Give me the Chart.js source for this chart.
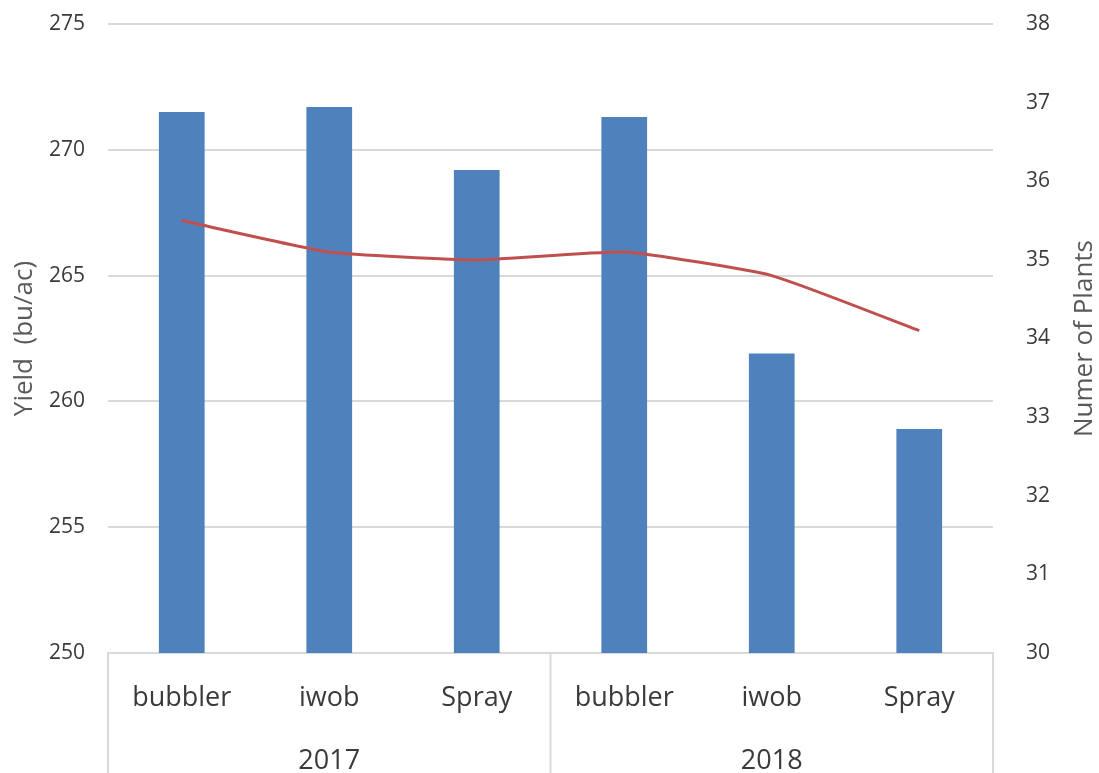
<!DOCTYPE html>
<html>
<head>
<meta charset="utf-8">
<script src="https://cdn.jsdelivr.net/npm/chart.js@4/dist/chart.umd.min.js"></script>
<style>
  html, body { margin: 0; padding: 0; background: #ffffff; }
  #wrap { width: 1099px; height: 773px; }
</style>
</head>
<body>
<div id="wrap"><canvas id="chart" width="1099" height="773"></canvas></div>
<script>
// Treatments within each season, and the season labels underneath
const categories = ['bubbler', 'iwob', 'Spray', 'bubbler', 'iwob', 'Spray'];
const years = ['2017', '2018'];

// Yield (bu/ac), left axis
const yieldValues = [271.5, 271.7, 269.2, 271.3, 261.9, 258.9];
// Number of plants, right axis
const plantCounts = [35.5, 35.1, 35.0, 35.1, 34.8, 34.1];

// Axis ranges and tick steps
const yieldRange = { min: 250, max: 275, step: 5 };
const plantRange = { min: 30, max: 38, step: 1 };

const FONT = '"Open Sans", "Noto Sans", sans-serif';
const TEXT = '#3a3a3a';
const TITLE = '#595959';
const GRID = '#d9d9d9';

// Fixed axis width; keeps the tick-label gap from adding space above the plot
function fixVertical(width) {
  return function (scale) {
    scale.width = width;
    scale.paddingTop = 12;
    scale.paddingBottom = 12;
  };
}

// Frames the two-level category area below the plot and writes the right-hand title
const categoryFrame = {
  id: 'categoryFrame',
  afterDraw(chart) {
    const { ctx, chartArea } = chart;
    const x = chart.scales.x;
    const bottom = chart.height;
    const split = (x.getPixelForValue(2) + x.getPixelForValue(3)) / 2;
    ctx.save();
    ctx.strokeStyle = GRID;
    ctx.lineWidth = 2;
    ctx.beginPath();
    [chartArea.left, split, chartArea.right].forEach(px => {
      ctx.moveTo(px, chartArea.bottom);
      ctx.lineTo(px, bottom);
    });
    ctx.stroke();

    const y1 = chart.scales.y1;
    ctx.translate(y1.right - 14, (chartArea.top + chartArea.bottom) / 2);
    ctx.rotate(-Math.PI / 2);
    ctx.fillStyle = TITLE;
    ctx.font = '26px ' + FONT;
    ctx.textAlign = 'center';
    ctx.textBaseline = 'middle';
    ctx.fillText('Numer of Plants', 0, 0);
    ctx.restore();
  }
};

new Chart(document.getElementById('chart'), {
  data: {
    labels: categories,
    datasets: [
      {
        type: 'line',
        label: 'Numer of Plants',
        data: plantCounts,
        yAxisID: 'y1',
        xAxisID: 'x',
        borderColor: '#c0504d',
        borderWidth: 3,
        pointRadius: 0,
        tension: 0.15,
        fill: false,
        order: 0
      },
      {
        type: 'bar',
        label: 'Yield (bu/ac)',
        data: yieldValues,
        yAxisID: 'y',
        xAxisID: 'x',
        backgroundColor: '#4f81bd',
        borderWidth: 0,
        categoryPercentage: 1,
        barPercentage: 0.31,
        order: 1
      }
    ]
  },
  options: {
    responsive: false,
    animation: false,
    devicePixelRatio: 1,
    layout: { padding: { top: 24, left: 0, right: 0, bottom: 0 } },
    plugins: {
      legend: { display: false },
      tooltip: { enabled: false }
    },
    scales: {
      x: {
        type: 'category',
        position: 'bottom',
        grid: { display: false, drawTicks: false },
        border: { display: true, color: GRID, width: 2 },
        ticks: {
          autoSkip: false,
          maxRotation: 0,
          padding: 29,
          color: TEXT,
          font: { family: FONT, size: 27 }
        },
        afterFit(scale) { scale.height = 70; }
      },
      x2: {
        type: 'category',
        position: 'bottom',
        labels: years,
        offset: true,
        grid: { display: false, drawTicks: false },
        border: { display: false },
        ticks: {
          autoSkip: false,
          maxRotation: 0,
          padding: 22,
          color: TEXT,
          font: { family: FONT, size: 27 }
        },
        afterFit(scale) { scale.height = 50; }
      },
      y: {
        position: 'left',
        min: yieldRange.min,
        max: yieldRange.max,
        grid: { color: GRID, lineWidth: 2, drawTicks: false },
        border: { display: false },
        ticks: {
          stepSize: yieldRange.step,
          padding: 23,
          color: TEXT,
          font: { family: FONT, size: 21 }
        },
        title: {
          display: true,
          text: 'Yield  (bu/ac)',
          color: TITLE,
          font: { family: FONT, size: 26 },
          padding: { top: 9, bottom: 0 }
        },
        afterFit: fixVertical(108)
      },
      y1: {
        position: 'right',
        min: plantRange.min,
        max: plantRange.max,
        grid: { drawOnChartArea: false, drawTicks: false },
        border: { display: false },
        ticks: {
          stepSize: plantRange.step,
          padding: 33,
          color: TEXT,
          font: { family: FONT, size: 21 }
        },
        afterFit: fixVertical(106)
      }
    }
  },
  plugins: [categoryFrame]
});
</script>
</body>
</html>
